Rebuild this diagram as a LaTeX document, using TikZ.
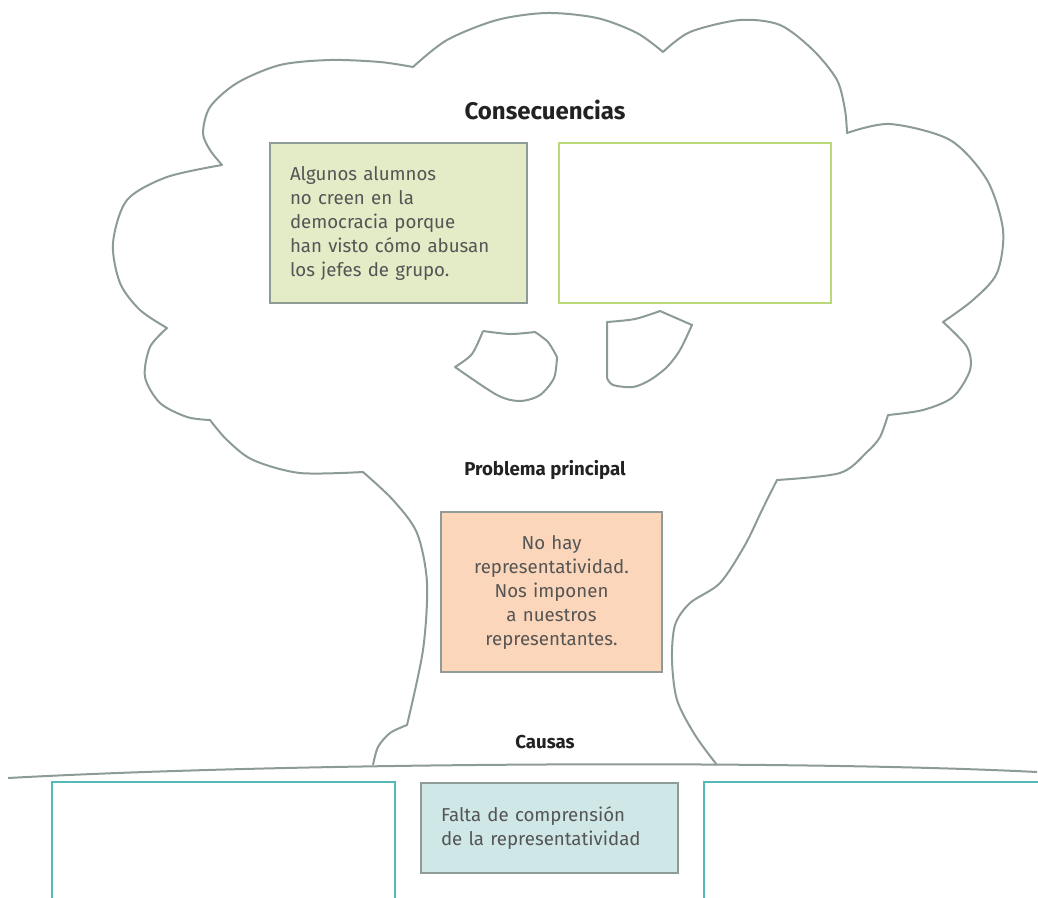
\documentclass[tikz,border=0pt]{standalone}
\usepackage{fontspec}
\setmainfont{Fira Sans}
\usetikzlibrary{positioning}
\definecolor{treeline}{RGB}{141,155,152}
\definecolor{boxline}{RGB}{143,156,150}
\definecolor{leafgreen}{RGB}{227,235,199}
\definecolor{leafline}{RGB}{188,217,122}
\definecolor{peach}{RGB}{251,214,186}
\definecolor{rootfill}{RGB}{207,231,230}
\definecolor{rootline}{RGB}{85,185,183}
\definecolor{bodytext}{RGB}{85,85,85}
\definecolor{titletext}{RGB}{34,34,34}

\begin{document}
\begin{tikzpicture}[x=0.75pt,y=-0.75pt,node distance=22.5pt,
tree/.style={draw=treeline,line width=1.5pt,line join=round},
box/.style={draw=boxline,line width=1.1pt,inner xsep=15pt,inner ysep=0pt,font=\fontsize{14}{18}\selectfont,text=bodytext},
emptybox/.style={draw=#1,line width=1.5pt},
title/.style={font=\fontsize{14}{17}\selectfont\bfseries,text=titletext}]
\useasboundingbox (0,0) rectangle (1038,897);
\clip (0,0) rectangle (1038,897);
% crown, trunk and roots
\draw[tree] plot[smooth] coordinates {(373,765) (378,747) (390,733) (407,725)}
 -- plot[smooth] coordinates {(407,725) (423,650) (427,583) (417,533) (393,500) (363,472)}
 -- plot[smooth] coordinates {(363,472) (300,473) (253,460) (227,440) (210,420)}
 -- plot[smooth] coordinates {(210,420) (187,417) (160,403) (145,377) (150,347) (167,328)}
 -- plot[smooth] coordinates {(167,328) (140,310) (120,283) (113,243) (127,200) (167,177) (222,165)}
 -- plot[smooth] coordinates {(222,165) (210,150) (203,133) (210,107) (237,83) (280,65) (330,60) (380,62) (413,67)}
 -- plot[smooth] coordinates {(413,67) (447,40) (497,20) (547,13) (597,18) (637,33) (663,52)}
 -- plot[smooth] coordinates {(663,52) (690,32) (740,20) (780,25) (813,50) (837,80) (845,110) (847,133)}
 -- plot[smooth] coordinates {(847,133) (890,124) (950,140) (987,180) (1003,230) (997,273) (973,300) (943,322)}
 -- plot[smooth] coordinates {(943,322) (967,347) (970,370) (953,397) (923,410) (888,415)}
 -- plot[smooth] coordinates {(888,415) (880,437) (867,452) (840,473) (777,480)}
 -- plot[smooth] coordinates {(777,480) (762,510) (745,545) (720,583) (690,603) (675,625) (672,660) (677,700) (695,735) (717,765)};
% ground
\draw[tree] (8,778) .. controls (300,762) and (800,760) .. (1037,772);
% holes between the branches
\draw[tree] plot[smooth] coordinates {(483,331) (510,334) (535,332)}
 -- plot[smooth] coordinates {(535,332) (548,342) (557,357)}
 -- plot[smooth] coordinates {(557,357) (554,378) (540,395) (520,401) (497,395) (455,367)}
 -- plot[smooth] coordinates {(455,367) (472,354) (483,331)};
\draw[tree] plot[smooth] coordinates {(607,322) (635,319) (660,311)}
 -- (692,325)
 -- plot[smooth] coordinates {(692,325) (680,350) (667,367) (650,380) (633,387) (613,385) (607,378)}
 -- cycle;
% consecuencias
\node[title,font=\fontsize{18}{20}\selectfont\bfseries] (conseq) at (545,110) {Consecuencias};
\node[box,fill=leafgreen,text width=162.75pt,minimum height=120pt,align=left] (leafA) at (398.5,223)
 {Algunos alumnos\\no creen en la\\democracia porque\\han visto cómo abusan\\los jefes de grupo.};
\node[emptybox=leafline,minimum width=204pt,minimum height=120pt,right=of leafA] (leafB) {};
% problema principal
\node[title] (problem) at (545,470) {Problema principal};
\node[box,fill=peach,text width=135.75pt,minimum height=120pt,align=center] (trunk) at (551.5,592)
 {No hay\\representatividad.\\Nos imponen\\a nuestros\\representantes.};
% causas
\node[title] (causes) at (545,742) {Causas};
\node[box,fill=rootfill,text width=162.75pt,minimum height=67.5pt,align=left] (rootM) at (549.5,828)
 {Falta de comprensión\\de la representatividad};
\node[emptybox=rootline,minimum width=257.25pt,minimum height=110pt,left=18pt of rootM.north west,anchor=north east,yshift=1pt] (rootL) {};
\node[emptybox=rootline,minimum width=268.5pt,minimum height=110pt,right=18pt of rootM.north east,anchor=north west,yshift=1pt] (rootR) {};
\end{tikzpicture}
\end{document}
